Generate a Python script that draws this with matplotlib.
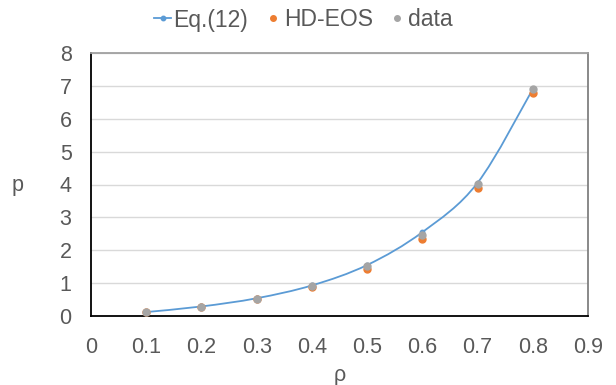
import matplotlib.pyplot as plt
from matplotlib.path import Path
from matplotlib.patches import PathPatch
from matplotlib.lines import Line2D

plt.rcParams['font.family'] = ['Liberation Sans', 'DejaVu Sans']

# values
rho = [0.1, 0.2, 0.3, 0.4, 0.5, 0.6, 0.7, 0.8]
eq12 = [0.12, 0.29, 0.54, 0.93, 1.55, 2.55, 4.05, 6.90]
hd_eos = [0.11, 0.28, 0.53, 0.87, 1.44, 2.34, 3.88, 6.79]
data = [0.11, 0.28, 0.53, 0.91, 1.52, 2.46, 4.01, 6.90]

blue = '#5B9BD5'
orange = '#ED7D31'
gray = '#A5A5A5'
txt = '#595959'

fig = plt.figure(figsize=(6.16, 3.85), dpi=100)
ax = fig.add_axes([91 / 616, 69 / 385, 497 / 616, 263 / 385])

# smoothed line (Excel-style cubic bezier through the points)
verts = [(rho[0], eq12[0])]
codes = [Path.MOVETO]
n = len(rho)
t = 1 / 6
for i in range(n - 1):
    x0, y0 = (rho[i - 1], eq12[i - 1]) if i > 0 else (rho[i], eq12[i])
    x1, y1 = rho[i], eq12[i]
    x2, y2 = rho[i + 1], eq12[i + 1]
    x3, y3 = (rho[i + 2], eq12[i + 2]) if i + 2 < n else (x2, y2)
    verts += [(x1 + (x2 - x0) * t, y1 + (y2 - y0) * t),
              (x2 - (x3 - x1) * t, y2 - (y3 - y1) * t),
              (x2, y2)]
    codes += [Path.CURVE4] * 3
ax.add_patch(PathPatch(Path(verts, codes), facecolor='none', edgecolor=blue, lw=1.3, zorder=3))
ax.plot(rho, eq12, 'o', color=blue, ms=3.2, zorder=4)
ax.plot(rho, hd_eos, 'o', color=orange, ms=5, zorder=5)
ax.plot(rho, data, 'o', color=gray, ms=5, zorder=6)

ax.set_xlim(0, 0.9)
ax.set_ylim(0, 8)
ax.set_xticks([i / 10 for i in range(10)])
ax.set_xticklabels(['0', '0.1', '0.2', '0.3', '0.4', '0.5', '0.6', '0.7', '0.8', '0.9'])
ax.set_yticks(range(9))
ax.tick_params(length=0, labelsize=15.5, colors=txt)
ax.tick_params(axis='x', pad=15)
ax.tick_params(axis='y', pad=14)
ax.grid(axis='y', color='#D9D9D9', lw=1)
ax.set_axisbelow(True)
ax.spines['left'].set_color('black')
ax.spines['bottom'].set_color('black')
ax.spines['top'].set_color('#A0A0A0')
ax.spines['right'].set_color('#808080')
for s in ax.spines.values():
    s.set_linewidth(1.3)

fig.text(340 / 616, 1 - 375 / 385, 'ρ', fontsize=15.5, color=txt, ha='center', va='center')
fig.text(18 / 616, 1 - 185 / 385, 'p', fontsize=15.5, color=txt, ha='center', va='center')

handles = [Line2D([], [], color=blue, marker='o', ms=3.2, lw=1.3),
           Line2D([], [], color=orange, marker='o', ms=4, lw=0),
           Line2D([], [], color=gray, marker='o', ms=4, lw=0)]
fig.legend(handles, ['Eq.(12)', 'HD-EOS', 'data'], loc='center', ncol=3,
           bbox_to_anchor=(303.5 / 616, 1 - 20 / 385), frameon=False, fontsize=16.5,
           handlelength=0.75, handletextpad=0.1, columnspacing=0.7,
           borderpad=0, labelcolor=txt)

fig.savefig('out.png', dpi=100)
